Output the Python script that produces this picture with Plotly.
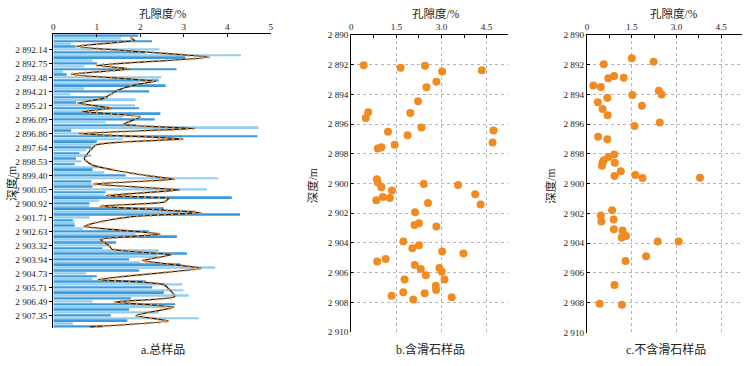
import plotly.graph_objects as go

# ---------------- data ----------------
depth_labels = ["2 892.14", "2 892.75", "2 893.48", "2 894.21", "2 895.21", "2 896.09",
                "2 896.86", "2 897.64", "2 898.53", "2 899.40", "2 900.05", "2 900.92",
                "2 901.71", "2 902.63", "2 903.32", "2 903.94", "2 904.73", "2 905.71",
                "2 906.49", "2 907.35"]

bar_por = [1.95, 1.55, 2.27, 0.4, 0.5, 2.44, 2.1, 4.31, 3.03, 0.9, 1.0, 0.71, 2.83, 0.22,
           0.31, 2.48, 2.42, 1.98, 2.58, 0.71, 2.2, 0.39, 1.25, 1.89, 0.52, 1.88, 1.97,
           0.71, 2.46, 1.6, 2.33, 1.2, 1.9, 4.72, 0.41, 0.7, 4.69, 1.59, 1.0, 0.94, 0.87,
           0.75, 0.6, 0.87, 0.52, 0.64, 0.49, 1.13, 0.9, 1.17, 1.66, 3.79, 0.87,
           0.87, 0.9, 3.53, 1.2, 1.17, 4.1, 1.06, 0.83, 0.83, 2.54, 3.26, 4.29, 0.83, 0.45,
           0.49, 0.49, 0.68, 2.2, 1.89, 2.84, 1.13, 1.44, 1.25, 1.13, 2.42, 3.07, 2.39,
           1.74, 2.0, 2.92, 3.72, 1.97, 0.75, 1.0, 0.9, 2.12, 2.96, 2.27, 2.99, 2.54, 3.11,
           1.78, 0.9, 2.8, 2.58, 1.74, 2.42, 1.32, 3.34, 1.7, 0.45, 1.13]

line_pos = [0.69, 1.63, 3.82, 7.64, 10.56, 11.88, 13.78, 16.28, 17.19, 19.3, 22.36, 24.03,
            25.94, 27.05, 28.99, 31.67, 33.13, 34.97, 36.88, 39.03, 44.0, 46.25, 48.16,
            50.07, 51.28, 53.02, 55.1, 57.12, 58.16, 59.44, 60.9, 63.19, 64.65, 66.4, 68.13,
            70.83, 72.88, 74.9, 76.28, 78.3, 80.35, 83.06, 87.12, 88.96, 93.3, 95.14,
            97.01, 99.97, 101.98, 104.06]
line_por = [1.77, 1.87, 0.53, 3.57, 1.0, 1.76, 0.4, 2.35, 1.98, 1.5, 1.15, 0.57,
            1.33, 0.67, 2.0, 1.61, 3.23, 0.58, 2.99, 0.98, 0.71, 0.9, 1.44,
            2.2, 2.77, 0.9, 2.89, 1.21, 2.65, 2.54, 1.07, 3.39, 1.8, 1.1, 0.7,
            2.46, 1.08, 1.27, 1.35, 2.71, 2.04, 3.39, 1.03, 2.54, 2.79, 1.42,
            2.77, 1.9, 2.65, 0.84]

b_por = [0.41, 1.64, 2.45, 3.02, 4.34, 2.83, 2.50, 2.22, 0.56, 1.96, 0.48, 2.33, 1.22, 4.73,
         1.87, 4.70, 1.44, 1.0, 0.88, 0.85, 0.88, 1.0, 1.35, 2.41, 3.55, 4.12, 4.30, 0.83,
         1.05, 1.28, 2.55, 2.12, 2.10, 2.25, 2.83, 1.73, 2.03, 2.25, 3.02, 3.73, 0.86, 1.14,
         2.11, 2.31, 2.48, 2.93, 3.01, 3.10, 1.77, 2.81, 2.82, 2.44, 1.73, 1.34, 2.06, 3.34]
b_depth = [2892.05, 2892.22, 2892.07, 2892.47, 2892.38, 2893.15, 2893.52, 2894.47, 2895.2,
           2895.26, 2895.6, 2896.23, 2896.52, 2896.43, 2896.76, 2897.25, 2897.4, 2897.56,
           2897.64, 2899.72, 2899.93, 2900.26, 2900.48, 2900.04, 2900.11, 2900.72, 2901.41,
           2901.13, 2900.91, 2900.98, 2901.32, 2901.93, 2902.8, 2902.67, 2902.89, 2903.9,
           2904.36, 2904.16, 2904.58, 2904.71, 2905.25, 2905.08, 2905.49, 2905.75, 2906.18,
           2905.68, 2905.94, 2906.46, 2906.46, 2906.88, 2907.16, 2907.38, 2907.32, 2907.55,
           2907.81, 2907.66]

c_por = [1.5, 2.23, 0.56, 0.71, 0.91, 1.23, 0.21, 0.46, 2.41, 2.5, 1.52, 0.68, 0.36, 1.84,
         0.52, 0.69, 2.44, 1.59, 0.37, 0.68, 0.91, 0.72, 0.56, 0.52, 0.5, 0.93, 1.13, 0.92,
         1.62, 1.86, 3.79, 0.84, 0.46, 0.48, 0.89, 0.9, 1.19, 1.16, 1.31, 2.37, 3.07, 1.98,
         1.29, 0.92, 0.42, 1.17]
c_depth = [2891.57, 2891.8, 2891.98, 2892.91, 2892.76, 2892.89, 2893.41, 2893.5, 2893.76,
           2894.0, 2894.04, 2894.22, 2894.52, 2894.76, 2894.98, 2895.41, 2895.89, 2896.13,
           2896.85, 2897.02, 2898.04, 2898.2, 2898.42, 2898.57, 2898.8, 2898.6, 2899.17,
           2899.48, 2899.41, 2899.61, 2899.6, 2901.78, 2902.13, 2902.54, 2902.41, 2903.07,
           2903.15, 2903.61, 2903.52, 2903.89, 2903.89, 2904.87, 2905.2, 2906.8, 2908.07,
           2908.13]

x_ticks_a = [0, 1, 2, 3, 4, 5]
x_ticks_bc = [0, 1.5, 3.0, 4.5]
x_ticktext_bc = ["0", "1.5", "3.0", "4.5"]
x_minor_bc = [0.75, 2.25, 3.75]
y_ticks_bc = [2890, 2892, 2894, 2896, 2898, 2900, 2902, 2904, 2906, 2908, 2910]
y_ticktext_bc = ["2 890", "2 892", "2 894", "2 896", "2 898", "2 900", "2 902", "2 904",
                 "2 906", "2 908", "2 910"]

x_title = "孔隙度/%"
y_title = "深度/m"
captions = ["a.总样品", "b.含滑石样品", "c.不含滑石样品"]

# ---------------- styling ----------------
W, H = 752, 366
FONT = "'Liberation Serif', 'Times New Roman', 'Noto Sans CJK SC', serif"
ORANGE = "#f28a22"
DARK_BLUE = "#3d98dc"
LIGHT_BLUE = "#93cdf0"
GRID = "#b5b5b5"


def px(x):
    return x / W


def py(y):
    return 1 - y / H


fig = go.Figure()

idx = list(range(len(bar_por)))
bar_colors = [DARK_BLUE if i % 2 == 0 else LIGHT_BLUE for i in idx]
fig.add_trace(go.Bar(x=bar_por, y=idx, orientation="h", width=0.62,
                     marker=dict(color=bar_colors, line=dict(width=0)),
                     xaxis="x", yaxis="y", showlegend=False))
fig.add_trace(go.Scatter(x=line_por, y=line_pos, mode="lines",
                         line=dict(color="#1a1a1a", width=1.2, shape="spline", smoothing=0.45),
                         xaxis="x", yaxis="y", showlegend=False))
fig.add_trace(go.Scatter(x=line_por, y=line_pos, mode="lines",
                         line=dict(color=ORANGE, width=2.6, shape="spline", smoothing=0.45,
                                   dash="2px,5px"),
                         xaxis="x", yaxis="y", showlegend=False))
fig.add_trace(go.Scatter(x=b_por, y=b_depth, mode="markers",
                         marker=dict(color=ORANGE, size=8, line=dict(width=0)),
                         xaxis="x2", yaxis="y2", showlegend=False))
fig.add_trace(go.Scatter(x=c_por, y=c_depth, mode="markers",
                         marker=dict(color=ORANGE, size=8, line=dict(width=0)),
                         xaxis="x3", yaxis="y3", showlegend=False))

tickfont = dict(family=FONT, size=9.2, color="#222")
common_x = dict(side="top", showline=True, linecolor="black", linewidth=1.2, ticks="inside",
                ticklen=3, tickcolor="black", zeroline=False, tickfont=tickfont, fixedrange=True)
common_y = dict(showline=True, linecolor="black", linewidth=1.2, ticklen=3,
                tickcolor="black", zeroline=False, tickfont=tickfont, fixedrange=True)
minor_bc = dict(tickvals=x_minor_bc, ticks="inside", ticklen=3, tickcolor="black",
                showgrid=False)

fig.update_layout(
    width=W, height=H, margin=dict(l=0, r=0, t=0, b=0),
    paper_bgcolor="white", plot_bgcolor="white",
    font=dict(family=FONT, color="#222"),
    xaxis=dict(domain=[px(51.7), px(270.7)], range=[0, 5], anchor="y", tickvals=x_ticks_a,
               showgrid=False, **common_x),
    yaxis=dict(domain=[py(332.2), py(30.2)], range=[104.5, -0.5], anchor="x",
               tickvals=list(range(5, 101, 5)), ticktext=depth_labels, showgrid=False,
               ticks="outside", **common_y),
    xaxis2=dict(domain=[px(351.7), px(509)], range=[0, 5.2], anchor="y2",
                tickvals=x_ticks_bc, ticktext=x_ticktext_bc, showgrid=True, gridcolor=GRID,
                griddash="dot", gridwidth=1, minor=minor_bc, **common_x),
    yaxis2=dict(domain=[py(336.3), py(30.7)], range=[2910, 2890], anchor="x2",
                tickvals=y_ticks_bc, ticktext=y_ticktext_bc, showgrid=True, gridcolor=GRID,
                griddash="dot", gridwidth=1, ticks="inside", **common_y),
    xaxis3=dict(domain=[px(589), px(745)], range=[0, 5.2], anchor="y3",
                tickvals=x_ticks_bc, ticktext=x_ticktext_bc, showgrid=True, gridcolor=GRID,
                griddash="dot", gridwidth=1, minor=minor_bc, **common_x),
    yaxis3=dict(domain=[py(336.7), py(30.7)], range=[2910, 2890], anchor="x3",
                tickvals=y_ticks_bc, ticktext=y_ticktext_bc, showgrid=True, gridcolor=GRID,
                griddash="dot", gridwidth=1, ticks="inside", **common_y),
)

ann = []
for cx in (162.5, 436.7, 676.7):
    ann.append(dict(text=x_title, x=px(cx), y=py(9), xref="paper", yref="paper",
                    showarrow=False, xanchor="center", yanchor="middle",
                    font=dict(family=FONT, size=11.5, color="#222")))
for cx, cy in ((9, 183), (313.5, 186), (552.5, 186)):
    ann.append(dict(text=y_title, x=px(cx), y=py(cy), xref="paper", yref="paper",
                    showarrow=False, textangle=-90, xanchor="center", yanchor="middle",
                    font=dict(family=FONT, size=11.5, color="#222")))
for text, cx in zip(captions, (161.7, 431, 668)):
    ann.append(dict(text=text, x=px(cx), y=py(354.5), xref="paper", yref="paper",
                    showarrow=False, xanchor="center", yanchor="middle",
                    font=dict(family=FONT, size=12, color="#222")))
fig.update_layout(annotations=ann)

fig.write_html("out.html", config={"displayModeBar": False},
               post_script="document.body.style.margin='0';document.body.style.overflow='hidden';")
